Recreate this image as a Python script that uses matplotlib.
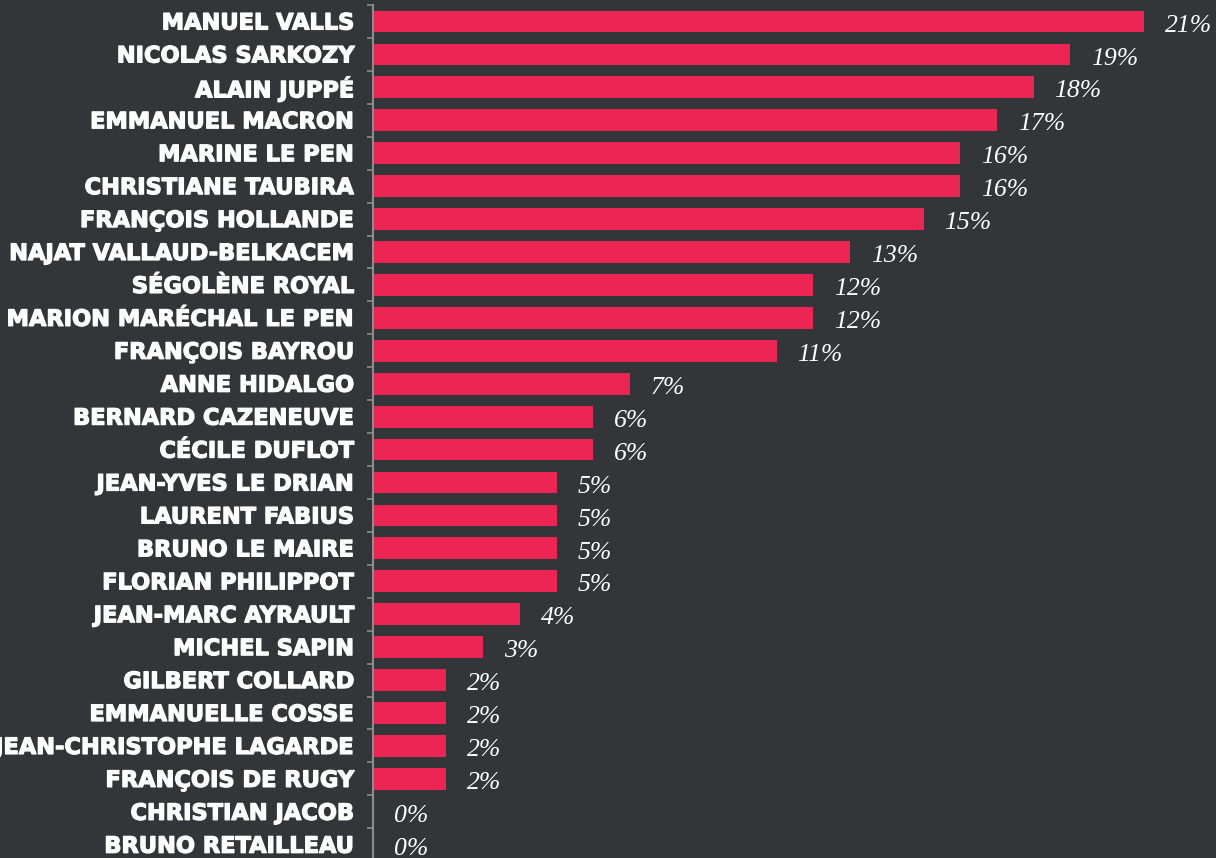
import matplotlib.pyplot as plt
import matplotlib.patheffects as pe
from matplotlib.ticker import FixedLocator

names = [
    "Manuel Valls", "Nicolas Sarkozy", "Alain Juppé", "Emmanuel Macron",
    "Marine Le Pen", "Christiane Taubira", "François Hollande",
    "Najat Vallaud-Belkacem", "Ségolène Royal", "Marion Maréchal Le Pen",
    "François Bayrou", "Anne Hidalgo", "Bernard Cazeneuve", "Cécile Duflot",
    "Jean-Yves Le Drian", "Laurent Fabius", "Bruno Le Maire",
    "Florian Philippot", "Jean-Marc Ayrault", "Michel Sapin",
    "Gilbert Collard", "Emmanuelle Cosse", "Jean-Christophe Lagarde",
    "François de Rugy", "Christian Jacob", "Bruno Retailleau",
]
scores = [21, 19, 18, 17, 16, 16, 15, 13, 12, 12, 11, 7, 6, 6,
          5, 5, 5, 5, 4, 3, 2, 2, 2, 2, 0, 0]

BG = "#333638"
BAR = "#ED2555"
AXIS = "#8c8c8c"

fig = plt.figure(figsize=(12.16, 8.58), dpi=100, facecolor=BG)
# axes run off the bottom edge slightly, like the cropped original
ax = fig.add_axes([373 / 1216, (858 - 861.2) / 858, 843 / 1216, 856.2 / 858])
ax.set_facecolor(BG)

pos = list(range(len(names)))
ax.barh(pos, scores, height=0.66, color=BAR, zorder=2)

ax.set_xlim(0, 22.97)
ax.set_ylim(len(names) - 0.5, -0.5)

for y, v in zip(pos, scores):
    ax.annotate(f"{v}%", (v, y), xytext=(15, -3), textcoords="offset points",
                ha="left", va="center", color="white", fontsize=18.5,
                family="Liberation Serif", style="italic")

ax.set_yticks(pos)
ax.set_yticklabels([n.upper() for n in names], fontsize=16.2, fontweight="bold",
                   color="white", family="DejaVu Sans")
for lbl in ax.get_yticklabels():
    lbl.set_path_effects([pe.withStroke(linewidth=0.9, foreground="white")])
ax.tick_params(axis="y", which="major", length=0, pad=13)
ax.yaxis.set_minor_locator(FixedLocator([p - 0.5 for p in pos] + [len(names) - 0.5]))
ax.tick_params(axis="y", which="minor", length=4.5, width=1.2, color=AXIS, direction="out")
ax.set_xticks([])

for side in ["top", "right", "bottom"]:
    ax.spines[side].set_visible(False)
ax.spines["left"].set_color(AXIS)
ax.spines["left"].set_linewidth(1.5)

fig.savefig("out.png", dpi=100, facecolor=BG)
